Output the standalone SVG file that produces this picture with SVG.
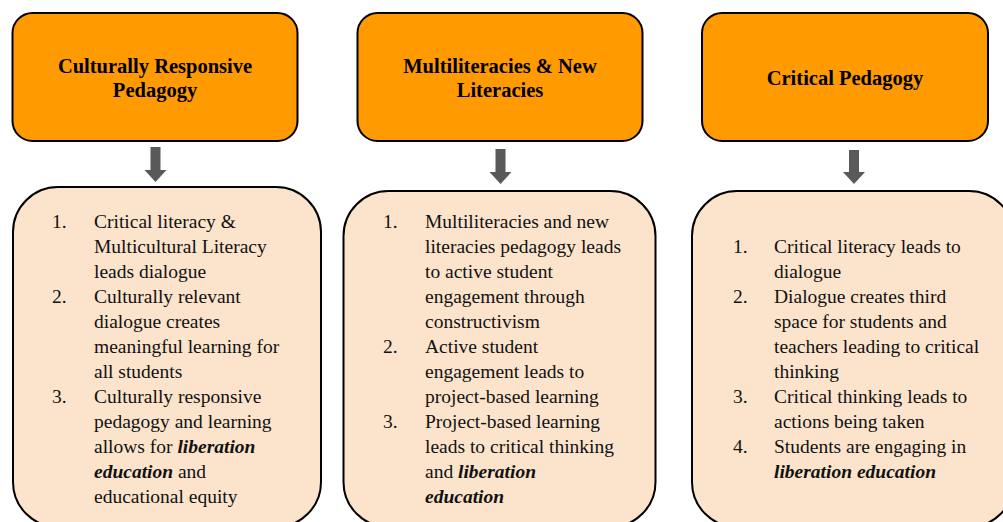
<svg xmlns="http://www.w3.org/2000/svg" width="1003" height="522" viewBox="0 0 1003 522">
  <style>
    .head { fill: #FF9A00; stroke: #000; stroke-width: 2; }
    .card { fill: #FCE4CC; stroke: #000; stroke-width: 2; }
    .title { font-weight: bold; font-size: 20.5px; fill: #000; text-anchor: middle; }
    .body { font-size: 19.5px; fill: #111; }
    .em { font-weight: bold; font-style: italic; }
    .arrow { fill: #595959; }
  </style>

  <g font-family="'Liberation Serif', 'DejaVu Serif', serif">
  <!-- Column 1 -->
  <g id="node-crp">
    <rect class="head" x="12.5" y="13" width="285" height="128" rx="20"/>
    <text class="title" x="155" y="73">Culturally Responsive</text>
    <text class="title" x="155" y="97">Pedagogy</text>
  </g>
  <g id="node-crp-list">
    <rect class="card" x="13" y="187" width="308" height="340" rx="45"/>
    <text class="body">
      <tspan x="52" y="228">1.</tspan>
      <tspan x="52" y="303">2.</tspan>
      <tspan x="52" y="403">3.</tspan>
    </text>
    <text class="body">
      <tspan x="94" y="228">Critical literacy &amp;</tspan>
      <tspan x="94" y="253">Multicultural Literacy</tspan>
      <tspan x="94" y="278">leads dialogue</tspan>
      <tspan x="94" y="303">Culturally relevant</tspan>
      <tspan x="94" y="328">dialogue creates</tspan>
      <tspan x="94" y="353">meaningful learning for</tspan>
      <tspan x="94" y="378">all students</tspan>
      <tspan x="94" y="403">Culturally responsive</tspan>
      <tspan x="94" y="428">pedagogy and learning</tspan>
      <tspan x="94" y="453">allows for <tspan class="em">liberation</tspan></tspan>
      <tspan x="94" y="478"><tspan class="em">education</tspan> and</tspan>
      <tspan x="94" y="503">educational equity</tspan>
    </text>
  </g>

  <!-- Column 2 -->
  <g id="node-multi">
    <rect class="head" x="357.5" y="13" width="285" height="128" rx="20"/>
    <text class="title" x="500" y="73">Multiliteracies &amp; New</text>
    <text class="title" x="500" y="97">Literacies</text>
  </g>
  <g id="node-multi-list">
    <rect class="card" x="343.5" y="191" width="312" height="336" rx="45"/>
    <text class="body">
      <tspan x="383" y="228">1.</tspan>
      <tspan x="383" y="353">2.</tspan>
      <tspan x="383" y="428">3.</tspan>
    </text>
    <text class="body">
      <tspan x="425" y="228">Multiliteracies and new</tspan>
      <tspan x="425" y="253">literacies pedagogy leads</tspan>
      <tspan x="425" y="278">to active student</tspan>
      <tspan x="425" y="303">engagement through</tspan>
      <tspan x="425" y="328">constructivism</tspan>
      <tspan x="425" y="353">Active student</tspan>
      <tspan x="425" y="378">engagement leads to</tspan>
      <tspan x="425" y="403">project-based learning</tspan>
      <tspan x="425" y="428">Project-based learning</tspan>
      <tspan x="425" y="453">leads to critical thinking</tspan>
      <tspan x="425" y="478">and <tspan class="em">liberation</tspan></tspan>
      <tspan x="425" y="503" class="em">education</tspan>
    </text>
  </g>

  <!-- Column 3 -->
  <g id="node-critical">
    <rect class="head" x="702" y="13" width="286" height="128" rx="20"/>
    <text class="title" x="845" y="85">Critical Pedagogy</text>
  </g>
  <g id="node-critical-list">
    <rect class="card" x="692" y="191" width="322" height="336" rx="45"/>
    <text class="body">
      <tspan x="733" y="253">1.</tspan>
      <tspan x="733" y="303">2.</tspan>
      <tspan x="733" y="403">3.</tspan>
      <tspan x="733" y="453">4.</tspan>
    </text>
    <text class="body">
      <tspan x="774" y="253">Critical literacy leads to</tspan>
      <tspan x="774" y="278">dialogue</tspan>
      <tspan x="774" y="303">Dialogue creates third</tspan>
      <tspan x="774" y="328">space for students and</tspan>
      <tspan x="774" y="353">teachers leading to critical</tspan>
      <tspan x="774" y="378">thinking</tspan>
      <tspan x="774" y="403">Critical thinking leads to</tspan>
      <tspan x="774" y="428">actions being taken</tspan>
      <tspan x="774" y="453">Students are engaging in</tspan>
      <tspan x="774" y="478" class="em">liberation education</tspan>
    </text>
  </g>
  </g>

  <!-- Down arrows between heading and list -->
  <g id="connectors">
    <path class="arrow" d="M150.5 147 H160.5 V170 H166.5 L155.5 182 L144.5 170 H150.5 Z"/>
    <path class="arrow" d="M495.5 149 H505.5 V172 H511.5 L500.5 184 L489.5 172 H495.5 Z"/>
    <path class="arrow" d="M849 150 H859 V172 H865 L854 184 L843 172 H849 Z"/>
  </g>
</svg>
